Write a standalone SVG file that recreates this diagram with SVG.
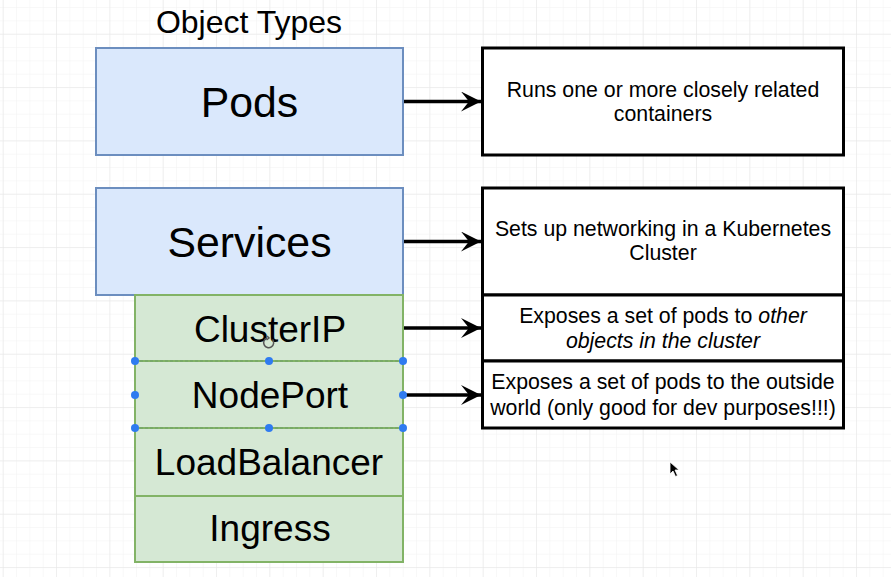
<svg xmlns="http://www.w3.org/2000/svg" width="891" height="577" viewBox="0 0 891 577">
  <defs>
    <pattern id="minorGrid" x="2.7" y="-19.6" width="13.333" height="13.333" patternUnits="userSpaceOnUse">
      <path d="M0,0 H13.333 M0,0 V13.333" fill="none" stroke="#f2f2f2" stroke-width="1"/>
    </pattern>
    <pattern id="majorGrid" x="2.7" y="-19.6" width="53.333" height="53.333" patternUnits="userSpaceOnUse">
      <path d="M0,0 H53.333 M0,0 V53.333" fill="none" stroke="#e6e6e6" stroke-width="1"/>
    </pattern>
    <marker id="arrow" markerUnits="userSpaceOnUse" markerWidth="22" markerHeight="22" refX="20" refY="10" orient="auto">
      <path d="M0,0 L20,10 L0,20 L8,10 Z" fill="#000"/>
    </marker>
  </defs>
  <style>
    .label { font-family: "Liberation Sans", Arial, Helvetica, sans-serif; fill: #000; text-anchor: middle; }
    .blue { fill: #dae8fc; stroke: #6c8ebf; stroke-width: 2; }
    .green { fill: #d5e8d4; stroke: #82b366; stroke-width: 2; }
    .desc { fill: #fff; stroke: #000; stroke-width: 3; }
    .big { font-size: 42.8px; }
    .mid { font-size: 37px; }
    .small { font-size: 21.3px; }
    .edge { fill: none; stroke: #000; stroke-width: 3.5; marker-end: url(#arrow); }
    .handle { fill: #2f7bf0; }
  </style>

  <!-- canvas grid -->
  <rect x="0" y="0" width="891" height="577" fill="#fff"/>
  <rect x="0" y="0" width="891" height="577" fill="url(#minorGrid)"/>
  <rect x="0" y="0" width="891" height="577" fill="url(#majorGrid)"/>

  <!-- heading -->
  <text class="label" x="249" y="33" font-size="32">Object Types</text>

  <!-- object types -->
  <g id="pods">
    <rect class="blue" x="96" y="48" width="307" height="107"/>
    <text class="label big" x="249.5" y="117">Pods</text>
  </g>
  <g id="services">
    <rect class="blue" x="96" y="188" width="307" height="107"/>
    <text class="label big" x="249.5" y="257">Services</text>
  </g>
  <g id="clusterip">
    <rect class="green" x="135" y="295" width="268" height="66"/>
    <text class="label mid" x="270" y="341.5">ClusterIP</text>
  </g>
  <g id="nodeport">
    <rect class="green" x="135" y="361" width="268" height="67"/>
    <text class="label mid" x="270" y="408">NodePort</text>
  </g>
  <g id="loadbalancer">
    <rect class="green" x="135" y="428" width="268" height="68"/>
    <text class="label mid" x="269" y="475">LoadBalancer</text>
  </g>
  <g id="ingress">
    <rect class="green" x="135" y="496" width="268" height="66"/>
    <text class="label mid" x="270" y="541">Ingress</text>
  </g>

  <!-- descriptions -->
  <g id="pods-desc">
    <rect class="desc" x="482.5" y="48" width="361" height="107"/>
    <text class="label small" x="663" y="97">Runs one or more closely related</text>
    <text class="label small" x="663" y="121">containers</text>
  </g>
  <g id="services-desc">
    <rect class="desc" x="482.5" y="188" width="361" height="107"/>
    <text class="label small" x="663" y="236">Sets up networking in a Kubernetes</text>
    <text class="label small" x="663" y="260">Cluster</text>
  </g>
  <g id="clusterip-desc">
    <rect class="desc" x="482.5" y="295" width="361" height="66"/>
    <text class="label small" x="663" y="323">Exposes a set of pods to <tspan font-style="italic">other</tspan></text>
    <text class="label small" x="663" y="348" font-style="italic">objects in the cluster</text>
  </g>
  <g id="nodeport-desc">
    <rect class="desc" x="482.5" y="361" width="361" height="67"/>
    <text class="label small" x="663" y="389">Exposes a set of pods to the outside</text>
    <text class="label small" x="663" y="415">world (only good for dev purposes!!!)</text>
  </g>

  <!-- connectors -->
  <g id="connectors">
    <path class="edge" d="M404,101.5 H481"/>
    <path class="edge" d="M404,241.5 H481"/>
    <path class="edge" d="M404,328 H481"/>
    <path class="edge" d="M404,395 H481"/>
  </g>

  <!-- selection on NodePort -->
  <g id="selection">
    <path d="M135,361 H403 M135,428 H403" fill="none" stroke="#6f9f6a" stroke-width="1" stroke-dasharray="3 2"/>
    <circle class="handle" cx="135" cy="361" r="4"/>
    <circle class="handle" cx="269" cy="361" r="4"/>
    <circle class="handle" cx="403" cy="361" r="4"/>
    <circle class="handle" cx="135" cy="395" r="4"/>
    <circle class="handle" cx="403" cy="395" r="4"/>
    <circle class="handle" cx="135" cy="428" r="4"/>
    <circle class="handle" cx="269" cy="428" r="4"/>
    <circle class="handle" cx="403" cy="428" r="4"/>
  </g>

  <!-- rotate cursor -->
  <g id="rotate-cursor" fill="none" stroke="#555" stroke-width="1.5">
    <path d="M272.5,339.5 A5,5 0 1 1 267,338"/>
    <path d="M267,336 L269,338 L266.5,340"/>
  </g>

  <!-- pointer -->
  <path id="pointer" d="M670,462 L670,474 L673,471 L675.5,476.5 L677.5,475.5 L675,470 L679,470 Z" fill="#000" stroke="#fff" stroke-width="0.8"/>
</svg>
